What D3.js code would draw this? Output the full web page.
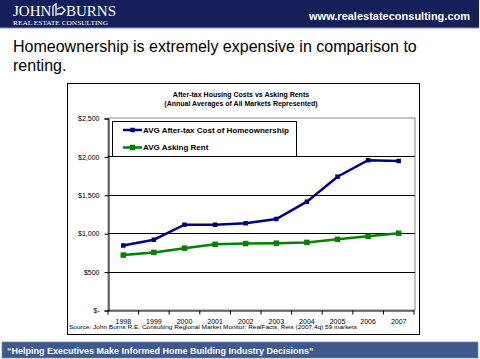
<!DOCTYPE html>
<html><head><meta charset="utf-8">
<script src="https://cdn.jsdelivr.net/npm/d3@7"></script>
<style>
html,body{margin:0;padding:0;background:#fff;}
svg{display:block;font-family:"Liberation Sans",Arial,sans-serif;}
</style></head>
<body>
<script>
const years = ["1998","1999","2000","2001","2002","2003","2004","2005","2006","2007"];
const ownCost = [840, 915, 1110, 1110, 1130, 1185, 1410, 1735, 1950, 1940];
const askRent = [715, 750, 805, 855, 865, 870, 880, 920, 960, 1000];
const yTicks = [0, 500, 1000, 1500, 2000, 2500];
const seriesNames = ["AVG After-tax Cost of Homeownership", "AVG Asking Rent"];

const W = 480, H = 359;
const svg = d3.select("body").append("svg").attr("width", W).attr("height", H);

// header bar
svg.append("rect").attr("x",0).attr("y",0).attr("width",479).attr("height",28).attr("fill","#15205a");
svg.append("line").attr("x1",0).attr("x2",479).attr("y1",28).attr("y2",28).attr("stroke","#8a93b8").attr("stroke-width",1);
svg.append("text").attr("x",13).attr("y",16).attr("fill","#fff")
  .attr("font-family","'Liberation Serif','DejaVu Serif',serif").attr("font-size",15).text("JOHN");
svg.append("text").attr("x",66).attr("y",16).attr("fill","#fff")
  .attr("font-family","'Liberation Serif','DejaVu Serif',serif").attr("font-size",15).text("BURNS");
// house icon
svg.append("path").attr("d","M53,16 L53,6 L56,4 L56,16 M57,9 L62,7 L65,10 L62,14 L57,14")
  .attr("fill","none").attr("stroke","#fff").attr("stroke-width",1.3);
svg.append("text").attr("x",13).attr("y",25).attr("fill","#fff")
  .attr("font-family","'Liberation Serif','DejaVu Serif',serif").attr("font-size",6.5)
  .attr("textLength",95).attr("lengthAdjust","spacingAndGlyphs").text("REAL ESTATE CONSULTING");
svg.append("text").attr("x",470).attr("y",20).attr("text-anchor","end").attr("fill","#fff")
  .attr("font-weight","bold").attr("font-size",11).text("www.realestateconsulting.com");

// heading
svg.append("text").attr("x",13).attr("y",52).attr("fill","#000").attr("font-size",16)
  .text("Homeownership is extremely expensive in comparison to");
svg.append("text").attr("x",13).attr("y",71).attr("fill","#000").attr("font-size",16).text("renting.");

// chart box
svg.append("rect").attr("x",67.5).attr("y",83.5).attr("width",352).attr("height",251)
  .attr("fill","#fff").attr("stroke","#000").attr("stroke-width",1);

svg.append("text").attr("x",241).attr("y",97).attr("text-anchor","middle").attr("font-size",7).attr("font-weight","bold")
  .text("After-tax Housing Costs vs Asking Rents");
svg.append("text").attr("x",241).attr("y",106).attr("text-anchor","middle").attr("font-size",7).attr("font-weight","bold")
  .text("(Annual Averages of All Markets Represented)");

const x = d3.scaleBand().domain(years).range([108, 414]);
const y = d3.scaleLinear().domain([0, 2500]).range([310, 118]);

// plot area border
svg.append("rect").attr("x",108).attr("y",118).attr("width",307).attr("height",192)
  .attr("fill","none").attr("stroke","#888").attr("stroke-width",1);

// gridlines
svg.append("g").selectAll("line").data(yTicks.filter(d => d > 0 && d < 2500)).join("line")
  .attr("x1",108).attr("x2",415).attr("y1",d => Math.round(y(d))+0.5).attr("y2",d => Math.round(y(d))+0.5)
  .attr("stroke","#000").attr("stroke-width",1);

// y axis
const fmt = d => d === 0 ? "$-" : "$" + d3.format(",")(d);
const yAxis = svg.append("g").attr("transform","translate(108.5,0.5)")
  .call(d3.axisLeft(y).tickValues(yTicks).tickSize(4).tickFormat(fmt));
yAxis.select(".domain").attr("stroke","#000");
yAxis.selectAll("text").attr("font-size",7).attr("fill","#000").attr("font-family","'Liberation Sans',Arial,sans-serif").attr("dx",-2);

// x axis
const xAxis = svg.append("g").attr("transform","translate(0,310.5)")
  .call(d3.axisBottom(x).tickSize(0).tickPadding(9));
xAxis.select(".domain").attr("stroke","#000");
xAxis.selectAll("text").attr("font-size",7).attr("fill","#000").attr("font-family","'Liberation Sans',Arial,sans-serif");
// category boundary ticks
xAxis.append("g").selectAll("line").data(years).join("line")
  .attr("x1",d => x(d)+x.bandwidth()).attr("x2",d => x(d)+x.bandwidth()).attr("y1",0).attr("y2",4)
  .attr("stroke","#000");
xAxis.append("line").attr("x1",108).attr("x2",108).attr("y1",0).attr("y2",4).attr("stroke","#000");

svg.append("text").attr("x",69).attr("y",329).attr("font-size",6).attr("fill","#000")
  .attr("textLength",288).attr("lengthAdjust","spacingAndGlyphs")
  .text("Source: John Burns R.E. Consulting Regional Market Monitor; RealFacts, Reis (2007,4q) 59 markets");

// series
const cx = d => x(d) + x.bandwidth()/2;
const series = [
  {vals: ownCost, color: "#000080", ms: 4.5},
  {vals: askRent, color: "#008000", ms: 5.5}
];
series.forEach(s => {
  const pts = years.map((yr,i) => [cx(yr), y(s.vals[i])]);
  svg.append("path").attr("d", d3.line()(pts)).attr("fill","none").attr("stroke",s.color).attr("stroke-width",2.5);
  svg.append("g").selectAll("rect").data(pts).join("rect")
    .attr("x",p => p[0]-s.ms/2).attr("y",p => p[1]-s.ms/2).attr("width",s.ms).attr("height",s.ms).attr("fill",s.color);
});

// legend
svg.append("rect").attr("x",112.5).attr("y",121.5).attr("width",184).attr("height",35)
  .attr("fill","#fff").attr("stroke","#000").attr("stroke-width",1);
seriesNames.forEach((n,i) => {
  const ly = 130 + i*17.5;
  svg.append("line").attr("x1",123).attr("x2",142).attr("y1",ly).attr("y2",ly).attr("stroke",series[i].color).attr("stroke-width",2.5);
  svg.append("rect").attr("x",132.5-series[i].ms/2).attr("y",ly-series[i].ms/2).attr("width",series[i].ms).attr("height",series[i].ms).attr("fill",series[i].color);
  svg.append("text").attr("x",143).attr("y",ly+2.5).attr("font-size",8).attr("font-weight","bold").attr("fill","#000").text(n);
});

// footer
svg.append("rect").attr("x",2).attr("y",342).attr("width",476).attr("height",16)
  .attr("fill","#3e5a8c").attr("stroke","#6f86b0").attr("stroke-width",0.7);
svg.append("text").attr("x",7).attr("y",353.5).attr("fill","#fff").attr("font-size",9).attr("font-weight","bold")
  .text("\u201CHelping Executives Make Informed Home Building Industry Decisions\u201D");
</script>
</body></html>
